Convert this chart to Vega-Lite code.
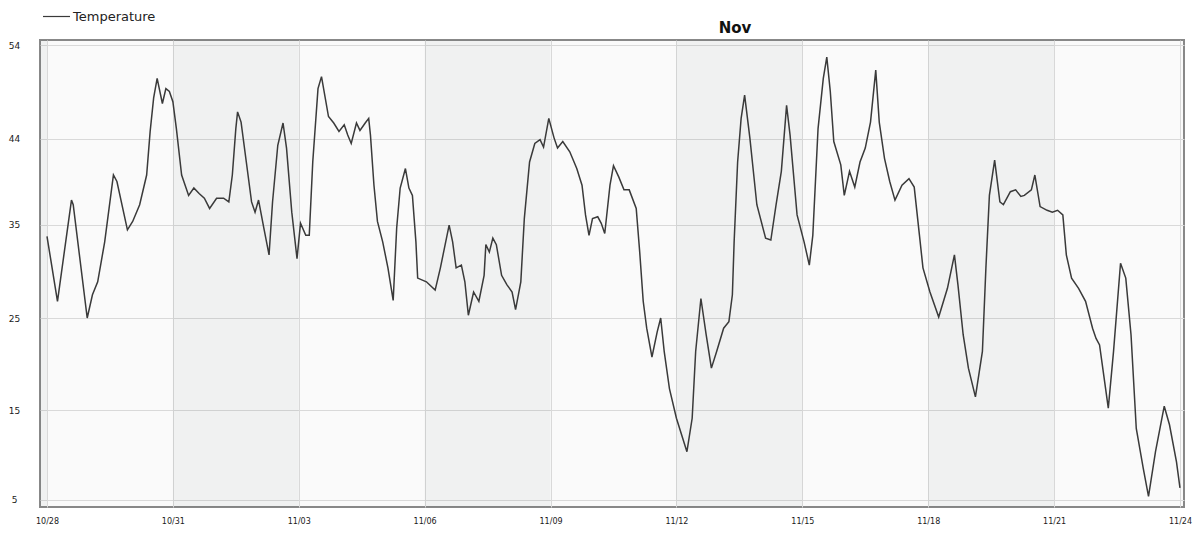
{
  "$schema": "https://vega.github.io/schema/vega-lite/v6.json",
  "width": 1144,
  "height": 467,
  "autosize": {"type": "none"},
  "padding": {"left": 40, "top": 40, "right": 15, "bottom": 26},
  "background": "#ffffff",
  "title": {
    "text": "Nov",
    "anchor": "middle",
    "frame": "group",
    "dx": 123,
    "dy": 54,
    "offset": 5,
    "baseline": "bottom",
    "font": "DejaVu Sans",
    "fontSize": 15,
    "fontWeight": "bold",
    "color": "#111111"
  },
  "config": {
    "view": {"fill": "#fafafa", "stroke": "#888888", "strokeWidth": 2},
    "axis": {
      "labelFont": "DejaVu Sans",
      "labelFontSize": 8,
      "labelColor": "#1a1a1a",
      "gridColor": "#d9d9d9",
      "gridWidth": 1,
      "ticks": false,
      "domain": false,
      "title": null
    }
  },
  "datasets": {
    "bands": [
      {"start": "2014-10-25T00:00", "end": "2014-10-28T00:00"},
      {"start": "2014-10-31T00:00", "end": "2014-11-03T00:00"},
      {"start": "2014-11-06T00:00", "end": "2014-11-09T00:00"},
      {"start": "2014-11-12T00:00", "end": "2014-11-15T00:00"},
      {"start": "2014-11-18T00:00", "end": "2014-11-21T00:00"}
    ],
    "temps": [
      {"t": "2014-10-28T00:00", "v": 33.4}, {"t": "2014-10-28T06:00", "v": 26.4}, {"t": "2014-10-28T14:00", "v": 37.3}, {"t": "2014-10-28T15:00", "v": 36.8}, {"t": "2014-10-28T23:00", "v": 24.6},
      {"t": "2014-10-29T02:00", "v": 27.1}, {"t": "2014-10-29T05:00", "v": 28.5}, {"t": "2014-10-29T09:00", "v": 32.8}, {"t": "2014-10-29T14:00", "v": 40.0}, {"t": "2014-10-29T16:00", "v": 39.3}, {"t": "2014-10-29T22:00", "v": 34.1},
      {"t": "2014-10-30T01:00", "v": 35.0}, {"t": "2014-10-30T05:00", "v": 36.8}, {"t": "2014-10-30T09:00", "v": 40.0}, {"t": "2014-10-30T11:00", "v": 44.7}, {"t": "2014-10-30T13:00", "v": 48.3}, {"t": "2014-10-30T15:00", "v": 50.4}, {"t": "2014-10-30T18:00", "v": 47.7}, {"t": "2014-10-30T20:00", "v": 49.3}, {"t": "2014-10-30T22:00", "v": 49.0},
      {"t": "2014-10-31T00:00", "v": 47.9}, {"t": "2014-10-31T02:00", "v": 45.0}, {"t": "2014-10-31T05:00", "v": 40.0}, {"t": "2014-10-31T09:00", "v": 37.8}, {"t": "2014-10-31T12:00", "v": 38.6}, {"t": "2014-10-31T15:00", "v": 38.0}, {"t": "2014-10-31T18:00", "v": 37.5}, {"t": "2014-10-31T21:00", "v": 36.4},
      {"t": "2014-11-01T01:00", "v": 37.5}, {"t": "2014-11-01T05:00", "v": 37.5}, {"t": "2014-11-01T08:00", "v": 37.1}, {"t": "2014-11-01T10:00", "v": 40.0}, {"t": "2014-11-01T12:00", "v": 45.0}, {"t": "2014-11-01T13:00", "v": 46.8}, {"t": "2014-11-01T15:00", "v": 45.7}, {"t": "2014-11-01T18:00", "v": 41.4}, {"t": "2014-11-01T21:00", "v": 37.1}, {"t": "2014-11-01T23:00", "v": 36.0},
      {"t": "2014-11-02T01:00", "v": 37.3}, {"t": "2014-11-02T04:00", "v": 34.3}, {"t": "2014-11-02T07:00", "v": 31.4}, {"t": "2014-11-02T09:00", "v": 37.1}, {"t": "2014-11-02T12:00", "v": 43.2}, {"t": "2014-11-02T15:00", "v": 45.6}, {"t": "2014-11-02T17:00", "v": 42.9}, {"t": "2014-11-02T20:00", "v": 36.0}, {"t": "2014-11-02T23:00", "v": 31.0},
      {"t": "2014-11-03T01:00", "v": 34.8}, {"t": "2014-11-03T04:00", "v": 33.5}, {"t": "2014-11-03T06:00", "v": 33.5}, {"t": "2014-11-03T08:00", "v": 41.4}, {"t": "2014-11-03T11:00", "v": 49.3}, {"t": "2014-11-03T13:00", "v": 50.6}, {"t": "2014-11-03T17:00", "v": 46.3}, {"t": "2014-11-03T20:00", "v": 45.6}, {"t": "2014-11-03T23:00", "v": 44.7},
      {"t": "2014-11-04T02:00", "v": 45.4}, {"t": "2014-11-04T04:00", "v": 44.3}, {"t": "2014-11-04T06:00", "v": 43.4}, {"t": "2014-11-04T09:00", "v": 45.6}, {"t": "2014-11-04T11:00", "v": 44.8}, {"t": "2014-11-04T14:00", "v": 45.6}, {"t": "2014-11-04T16:00", "v": 46.1}, {"t": "2014-11-04T17:00", "v": 44.3}, {"t": "2014-11-04T19:00", "v": 38.9}, {"t": "2014-11-04T21:00", "v": 35.0},
      {"t": "2014-11-05T00:00", "v": 32.8}, {"t": "2014-11-05T03:00", "v": 30.0}, {"t": "2014-11-05T06:00", "v": 26.5}, {"t": "2014-11-05T08:00", "v": 34.3}, {"t": "2014-11-05T10:00", "v": 38.6}, {"t": "2014-11-05T13:00", "v": 40.7}, {"t": "2014-11-05T15:00", "v": 38.6}, {"t": "2014-11-05T17:00", "v": 37.8}, {"t": "2014-11-05T19:00", "v": 32.8}, {"t": "2014-11-05T20:00", "v": 28.9},
      {"t": "2014-11-06T01:00", "v": 28.5}, {"t": "2014-11-06T06:00", "v": 27.6}, {"t": "2014-11-06T09:00", "v": 30.0}, {"t": "2014-11-06T14:00", "v": 34.6}, {"t": "2014-11-06T16:00", "v": 32.8}, {"t": "2014-11-06T18:00", "v": 30.0}, {"t": "2014-11-06T21:00", "v": 30.3}, {"t": "2014-11-06T23:00", "v": 28.5},
      {"t": "2014-11-07T01:00", "v": 24.9}, {"t": "2014-11-07T04:00", "v": 27.4}, {"t": "2014-11-07T07:00", "v": 26.4}, {"t": "2014-11-07T10:00", "v": 29.2}, {"t": "2014-11-07T11:00", "v": 32.5}, {"t": "2014-11-07T13:00", "v": 31.7}, {"t": "2014-11-07T15:00", "v": 33.2}, {"t": "2014-11-07T17:00", "v": 32.5}, {"t": "2014-11-07T20:00", "v": 29.2}, {"t": "2014-11-07T23:00", "v": 28.2},
      {"t": "2014-11-08T02:00", "v": 27.4}, {"t": "2014-11-08T04:00", "v": 25.5}, {"t": "2014-11-08T07:00", "v": 28.5}, {"t": "2014-11-08T09:00", "v": 35.3}, {"t": "2014-11-08T12:00", "v": 41.4}, {"t": "2014-11-08T15:00", "v": 43.4}, {"t": "2014-11-08T18:00", "v": 43.8}, {"t": "2014-11-08T20:00", "v": 43.0}, {"t": "2014-11-08T23:00", "v": 46.1},
      {"t": "2014-11-09T02:00", "v": 44.0}, {"t": "2014-11-09T04:00", "v": 42.9}, {"t": "2014-11-09T07:00", "v": 43.6}, {"t": "2014-11-09T11:00", "v": 42.5}, {"t": "2014-11-09T15:00", "v": 40.7}, {"t": "2014-11-09T18:00", "v": 38.9}, {"t": "2014-11-09T20:00", "v": 35.7}, {"t": "2014-11-09T22:00", "v": 33.5},
      {"t": "2014-11-10T00:00", "v": 35.3}, {"t": "2014-11-10T03:00", "v": 35.5}, {"t": "2014-11-10T05:00", "v": 34.8}, {"t": "2014-11-10T07:00", "v": 33.7}, {"t": "2014-11-10T10:00", "v": 38.9}, {"t": "2014-11-10T12:00", "v": 41.0}, {"t": "2014-11-10T15:00", "v": 39.8}, {"t": "2014-11-10T18:00", "v": 38.4}, {"t": "2014-11-10T21:00", "v": 38.4},
      {"t": "2014-11-11T01:00", "v": 36.4}, {"t": "2014-11-11T03:00", "v": 31.7}, {"t": "2014-11-11T05:00", "v": 26.4}, {"t": "2014-11-11T07:00", "v": 23.5}, {"t": "2014-11-11T10:00", "v": 20.4}, {"t": "2014-11-11T13:00", "v": 23.1}, {"t": "2014-11-11T15:00", "v": 24.6}, {"t": "2014-11-11T17:00", "v": 21.0}, {"t": "2014-11-11T20:00", "v": 17.0},
      {"t": "2014-11-12T00:00", "v": 13.8}, {"t": "2014-11-12T06:00", "v": 10.2}, {"t": "2014-11-12T09:00", "v": 13.8}, {"t": "2014-11-12T11:00", "v": 21.0}, {"t": "2014-11-12T14:00", "v": 26.7}, {"t": "2014-11-12T17:00", "v": 22.8}, {"t": "2014-11-12T20:00", "v": 19.2}, {"t": "2014-11-12T23:00", "v": 21.0},
      {"t": "2014-11-13T03:00", "v": 23.5}, {"t": "2014-11-13T06:00", "v": 24.2}, {"t": "2014-11-13T08:00", "v": 27.1}, {"t": "2014-11-13T09:00", "v": 32.8}, {"t": "2014-11-13T11:00", "v": 41.4}, {"t": "2014-11-13T13:00", "v": 46.1}, {"t": "2014-11-13T15:00", "v": 48.6}, {"t": "2014-11-13T18:00", "v": 44.0}, {"t": "2014-11-13T22:00", "v": 36.8},
      {"t": "2014-11-14T03:00", "v": 33.2}, {"t": "2014-11-14T06:00", "v": 33.0}, {"t": "2014-11-14T09:00", "v": 36.8}, {"t": "2014-11-14T12:00", "v": 40.4}, {"t": "2014-11-14T15:00", "v": 47.5}, {"t": "2014-11-14T17:00", "v": 44.3}, {"t": "2014-11-14T21:00", "v": 35.7},
      {"t": "2014-11-15T01:00", "v": 32.8}, {"t": "2014-11-15T04:00", "v": 30.3}, {"t": "2014-11-15T06:00", "v": 33.5}, {"t": "2014-11-15T09:00", "v": 45.0}, {"t": "2014-11-15T12:00", "v": 50.4}, {"t": "2014-11-15T14:00", "v": 52.7}, {"t": "2014-11-15T16:00", "v": 49.0}, {"t": "2014-11-15T18:00", "v": 43.6}, {"t": "2014-11-15T22:00", "v": 41.1},
      {"t": "2014-11-16T00:00", "v": 37.8}, {"t": "2014-11-16T03:00", "v": 40.4}, {"t": "2014-11-16T06:00", "v": 38.7}, {"t": "2014-11-16T09:00", "v": 41.4}, {"t": "2014-11-16T12:00", "v": 42.9}, {"t": "2014-11-16T15:00", "v": 45.7}, {"t": "2014-11-16T18:00", "v": 51.3}, {"t": "2014-11-16T20:00", "v": 45.7}, {"t": "2014-11-16T23:00", "v": 41.8},
      {"t": "2014-11-17T02:00", "v": 39.3}, {"t": "2014-11-17T05:00", "v": 37.3}, {"t": "2014-11-17T09:00", "v": 38.9}, {"t": "2014-11-17T13:00", "v": 39.6}, {"t": "2014-11-17T16:00", "v": 38.7}, {"t": "2014-11-17T19:00", "v": 33.5}, {"t": "2014-11-17T21:00", "v": 30.0},
      {"t": "2014-11-18T01:00", "v": 27.4}, {"t": "2014-11-18T06:00", "v": 24.7}, {"t": "2014-11-18T11:00", "v": 27.8}, {"t": "2014-11-18T15:00", "v": 31.4}, {"t": "2014-11-18T17:00", "v": 28.2}, {"t": "2014-11-18T20:00", "v": 22.8}, {"t": "2014-11-18T23:00", "v": 19.2},
      {"t": "2014-11-19T03:00", "v": 16.1}, {"t": "2014-11-19T07:00", "v": 21.0}, {"t": "2014-11-19T09:00", "v": 30.0}, {"t": "2014-11-19T11:00", "v": 37.8}, {"t": "2014-11-19T14:00", "v": 41.6}, {"t": "2014-11-19T17:00", "v": 37.1}, {"t": "2014-11-19T19:00", "v": 36.8}, {"t": "2014-11-19T23:00", "v": 38.2},
      {"t": "2014-11-20T02:00", "v": 38.4}, {"t": "2014-11-20T05:00", "v": 37.7}, {"t": "2014-11-20T07:00", "v": 37.8}, {"t": "2014-11-20T11:00", "v": 38.4}, {"t": "2014-11-20T13:00", "v": 40.0}, {"t": "2014-11-20T16:00", "v": 36.6}, {"t": "2014-11-20T20:00", "v": 36.2}, {"t": "2014-11-20T23:00", "v": 36.0},
      {"t": "2014-11-21T02:00", "v": 36.2}, {"t": "2014-11-21T05:00", "v": 35.7}, {"t": "2014-11-21T07:00", "v": 31.4}, {"t": "2014-11-21T10:00", "v": 28.9}, {"t": "2014-11-21T14:00", "v": 27.8}, {"t": "2014-11-21T18:00", "v": 26.4}, {"t": "2014-11-21T22:00", "v": 23.5},
      {"t": "2014-11-22T00:00", "v": 22.4}, {"t": "2014-11-22T02:00", "v": 21.7}, {"t": "2014-11-22T07:00", "v": 14.9}, {"t": "2014-11-22T10:00", "v": 21.0}, {"t": "2014-11-22T14:00", "v": 30.5}, {"t": "2014-11-22T17:00", "v": 28.9}, {"t": "2014-11-22T20:00", "v": 22.8}, {"t": "2014-11-22T23:00", "v": 12.7},
      {"t": "2014-11-23T03:00", "v": 8.4}, {"t": "2014-11-23T06:00", "v": 5.4}, {"t": "2014-11-23T10:00", "v": 10.2}, {"t": "2014-11-23T15:00", "v": 15.1}, {"t": "2014-11-23T18:00", "v": 13.1}, {"t": "2014-11-23T22:00", "v": 9.1},
      {"t": "2014-11-24T00:00", "v": 6.3}
    ]
  },
  "layer": [
    {
      "data": {"name": "bands"},
      "mark": {"type": "rect", "clip": true, "fill": "#1a2a2a", "opacity": 0.045},
      "encoding": {
        "x": {"field": "start", "type": "temporal", "scale": {"domain": ["2014-10-27T20:00", "2014-11-24T02:18"]}},
        "x2": {"field": "end"}
      }
    },
    {
      "data": {"name": "temps"},
      "mark": {"type": "line", "strokeWidth": 1.5, "clip": true},
      "encoding": {
        "x": {
          "field": "t",
          "type": "temporal",
          "scale": {"domain": ["2014-10-27T20:00", "2014-11-24T02:18"]},
          "axis": {
            "values": [
              {"year": 2014, "month": 10, "date": 28},
              {"year": 2014, "month": 10, "date": 31},
              {"year": 2014, "month": 11, "date": 3},
              {"year": 2014, "month": 11, "date": 6},
              {"year": 2014, "month": 11, "date": 9},
              {"year": 2014, "month": 11, "date": 12},
              {"year": 2014, "month": 11, "date": 15},
              {"year": 2014, "month": 11, "date": 18},
              {"year": 2014, "month": 11, "date": 21},
              {"year": 2014, "month": 11, "date": 24}
            ],
            "format": "%m/%d",
            "labelPadding": 10,
            "labelAlign": "center",
            "labelBaseline": "top",
            "labelOverlap": false,
            "labelFlush": false,
            "labelBound": false,
            "grid": true
          }
        },
        "y": {
          "field": "v",
          "type": "quantitative",
          "scale": {"domain": [4.246, 54.54], "nice": false, "zero": false},
          "axis": {
            "values": [5, 14.69, 24.6, 34.62, 43.88, 54],
            "labelExpr": "format(datum.value, '.0f')",
            "labelAlign": "center",
            "labelBaseline": "middle",
            "labelPadding": 26,
            "labelFontSize": 9,
            "grid": true
          }
        },
        "color": {
          "datum": "Temperature",
          "scale": {"range": ["#3a3a3a"]},
          "legend": {
            "title": null,
            "orient": "none",
            "legendX": 2,
            "legendY": -38,
            "padding": 0,
            "symbolType": "stroke",
            "symbolSize": 729,
            "symbolStrokeWidth": 1.2,
            "labelFont": "DejaVu Sans",
            "labelFontSize": 13,
            "labelColor": "#222222",
            "labelOffset": 2
          }
        }
      }
    }
  ]
}
